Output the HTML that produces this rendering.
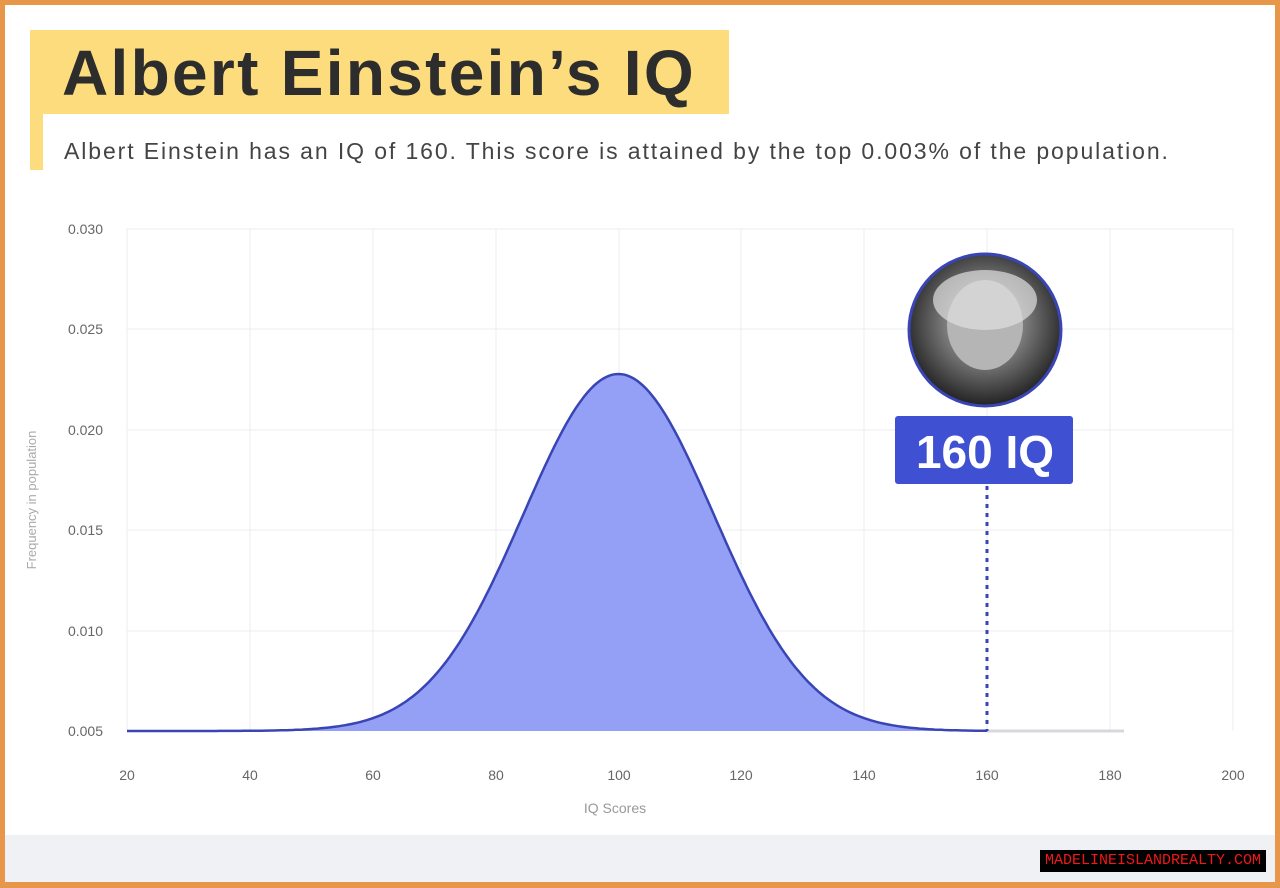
<!DOCTYPE html>
<html><head><meta charset="utf-8"><style>
html,body{margin:0;padding:0}
body{width:1280px;height:888px;position:relative;background:#e8964a;font-family:"Liberation Sans",sans-serif;overflow:hidden}
#card{position:absolute;left:5px;top:5px;width:1270px;height:877px;background:#fff}
#band{position:absolute;left:5px;top:835px;width:1270px;height:47px;background:#f0f1f4}
#hl{position:absolute;left:30px;top:30px;width:699px;height:84px;background:#fcdc7c}
#hl2{position:absolute;left:30px;top:114px;width:13px;height:56px;background:#fcdc7c}
#title{position:absolute;left:62px;top:36px;font-size:64px;font-weight:bold;color:#2d2d2d;letter-spacing:2.3px}
#sub{position:absolute;left:64px;top:138px;font-size:23px;color:#444;letter-spacing:1.9px;white-space:nowrap}
#wm{position:absolute;left:1040px;top:850px;width:226px;height:22px;background:#000;color:#f01818;font-family:"Liberation Mono",monospace;font-size:15px;line-height:22px;text-align:center}
</style></head><body>
<div id="card"></div><div id="band"></div>
<div id="hl"></div><div id="hl2"></div>
<div id="title">Albert Einstein’s IQ</div>
<div id="sub">Albert Einstein has an IQ of 160. This score is attained by the top 0.003% of the population.</div>
<svg width="1280" height="888" style="position:absolute;left:0;top:0" xmlns="http://www.w3.org/2000/svg">
<g stroke="#ececf0" stroke-width="1">
<line x1="127" y1="229" x2="1233" y2="229"/><line x1="127" y1="329" x2="1233" y2="329"/><line x1="127" y1="430" x2="1233" y2="430"/><line x1="127" y1="530" x2="1233" y2="530"/><line x1="127" y1="631" x2="1233" y2="631"/>
<line x1="127" y1="229" x2="127" y2="731"/><line x1="250" y1="229" x2="250" y2="731"/><line x1="373" y1="229" x2="373" y2="731"/><line x1="496" y1="229" x2="496" y2="731"/><line x1="619" y1="229" x2="619" y2="731"/><line x1="741" y1="229" x2="741" y2="731"/><line x1="864" y1="229" x2="864" y2="731"/><line x1="987" y1="229" x2="987" y2="731"/><line x1="1110" y1="229" x2="1110" y2="731"/><line x1="1233" y1="229" x2="1233" y2="731"/>
</g>
<line x1="987" y1="731" x2="1124" y2="731" stroke="#d8d8dc" stroke-width="3"/>
<path id="fill" fill="#93a0f6" stroke="none"/>
<path id="crv" fill="none" stroke="#3a45b5" stroke-width="2.5"/>
<line x1="987" y1="486" x2="987" y2="731" stroke="#3a45b5" stroke-width="3" stroke-dasharray="4,5"/>
<g font-size="14" fill="#666" text-anchor="end">
<text x="103" y="234">0.030</text><text x="103" y="334">0.025</text><text x="103" y="435">0.020</text><text x="103" y="535">0.015</text><text x="103" y="636">0.010</text><text x="103" y="736">0.005</text>
</g>
<g font-size="14" fill="#666" text-anchor="middle">
<text x="127" y="780">20</text><text x="250" y="780">40</text><text x="373" y="780">60</text><text x="496" y="780">80</text><text x="619" y="780">100</text><text x="741" y="780">120</text><text x="864" y="780">140</text><text x="987" y="780">160</text><text x="1110" y="780">180</text><text x="1233" y="780">200</text>
<text x="615" y="813" fill="#999">IQ Scores</text>
<text transform="translate(36,500) rotate(-90)" fill="#aaa" font-size="13">Frequency in population</text>
</g>
<defs><radialGradient id="rg" cx="50%" cy="45%" r="55%"><stop offset="0" stop-color="#c8c8c8"/><stop offset="0.5" stop-color="#777"/><stop offset="1" stop-color="#222"/></radialGradient></defs>
<circle cx="985" cy="330" r="76" fill="url(#rg)" stroke="#3a45b5" stroke-width="3"/>
<ellipse cx="985" cy="325" rx="38" ry="45" fill="#b5b5b5"/>
<ellipse cx="985" cy="300" rx="52" ry="30" fill="#e0e0e0" opacity="0.7"/>
<rect x="895" y="416" width="178" height="68" rx="3" fill="#3f51d2"/>
<text x="985" y="468" font-size="46" font-weight="bold" fill="#fff" text-anchor="middle">160 IQ</text>
</svg>
<div id="wm">MADELINEISLANDREALTY.COM</div>
<script>
var d="",pts=[];
for(var v=20;v<=160;v+=0.5){var x=127+(v-20)*6.144;var y=731-357*Math.exp(-Math.pow((v-100)/15.5,2)/2);pts.push(x.toFixed(1)+","+y.toFixed(1));}
document.getElementById("crv").setAttribute("d","M"+pts.join(" L"));
document.getElementById("fill").setAttribute("d","M"+pts.join(" L")+" L987,731 L127,731 Z");
</script>
</body></html>
